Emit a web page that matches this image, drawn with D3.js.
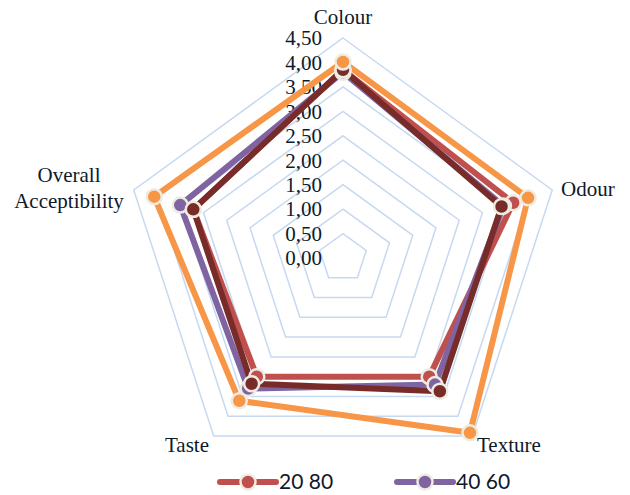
<!DOCTYPE html>
<html>
<head>
<meta charset="utf-8">
<script src="https://cdn.jsdelivr.net/npm/d3@7"></script>
<style>
  body { margin: 0; background: #fff; }
  text { fill: #0d1a2b; }
</style>
</head>
<body>
<div class="radar"></div>
<script>
var axes = ['Colour', 'Odour', 'Texture', 'Taste', 'Overall Acceptibility'];
var ticks = [0, 0.5, 1, 1.5, 2, 2.5, 3, 3.5, 4, 4.5];
var names = ['20 80', '40 60', '60 40', '80 20'];
var colors = ['#c0504d', '#8064a2', '#772c2a', '#f79646'];
var s2080 = [3.85, 3.66, 3.0, 3.0, 3.22];
var s4060 = [3.8, 3.45, 3.2, 3.3, 3.5];
var s6040 = [3.85, 3.41, 3.37, 3.18, 3.22];
var s8020 = [4.01, 3.98, 4.42, 3.61, 4.06];
var series = [s2080, s4060, s6040, s8020];

var cx = 343, cy = 258;
var r = d3.scaleLinear().domain([0, 4.5]).range([0, 220]);
var angle = d3.scaleLinear().domain([0, axes.length]).range([0, 2 * Math.PI]);

function pt(i, v) {
  var a = angle(i);
  return [cx + r(v) * Math.sin(a), cy - r(v) * Math.cos(a)];
}

var svg = d3.select('.radar')
  .append('svg')
  .attr('width', 630)
  .attr('height', 495);

// grid pentagons
svg.selectAll('.grid')
  .data(ticks.slice(1))
  .enter().append('polygon')
  .attr('points', function(t) {
    return axes.map(function(a, i) { return pt(i, t).join(','); }).join(' ');
  })
  .style('fill', 'none')
  .style('stroke', '#c6d9f1')
  .style('stroke-width', 1.5);

// tick labels
svg.selectAll('.tick')
  .data(ticks)
  .enter().append('text')
  .attr('x', cx - 21)
  .attr('y', function(t) { return cy - r(t); })
  .attr('dy', '0.35em')
  .attr('text-anchor', 'end')
  .style('font-family', 'Liberation Serif, Times New Roman, serif')
  .style('font-size', '21px')
  .text(function(t) { return d3.format('.2f')(t).replace('.', ','); });

// series lines
var line = d3.line().curve(d3.curveLinearClosed);
series.forEach(function(s, k) {
  svg.append('path')
    .attr('d', line(s.map(function(v, i) { return pt(i, v); })))
    .style('fill', 'none')
    .style('stroke', colors[k])
    .style('stroke-width', 6)
    .style('stroke-linejoin', 'round');
});
series.forEach(function(s, k) {
  svg.selectAll('.m' + k)
    .data(s)
    .enter().append('circle')
    .attr('cx', function(v, i) { return pt(i, v)[0]; })
    .attr('cy', function(v, i) { return pt(i, v)[1]; })
    .attr('r', 7.5)
    .style('fill', colors[k])
    .style('stroke', '#eeece1')
    .style('stroke-width', 2.5);
});

// axis labels
var font = 'Liberation Serif, Times New Roman, serif';
function label(txt, x, y, anchor) {
  return svg.append('text').text(txt)
    .attr('x', x).attr('y', y)
    .attr('text-anchor', anchor)
    .style('font-family', font)
    .style('font-size', '21px');
}
label(axes[0], cx, 24, 'middle');
label(axes[1], 561, 196, 'start');
label(axes[2], 477, 452, 'start');
label(axes[3], 209, 452, 'end');
label('Overall', 69, 182, 'middle');
label('Acceptibility', 69, 208, 'middle');

// legend (only first two visible)
var legend = svg.selectAll('.legend')
  .data(names.slice(0, 2))
  .enter().append('g')
  .attr('transform', function(d, i) { return 'translate(' + (220 + i * 177) + ',482)'; });
legend.append('line')
  .attr('x1', 0).attr('x2', 56)
  .style('stroke', function(d, i) { return colors[i]; })
  .style('stroke-width', 6)
  .style('stroke-linecap', 'round');
legend.append('circle')
  .attr('cx', 28).attr('r', 7.5)
  .style('fill', function(d, i) { return colors[i]; })
  .style('stroke', '#eeece1')
  .style('stroke-width', 2.5);
legend.append('text')
  .attr('x', 59)
  .attr('dy', '0.35em')
  .style('font-family', 'Lato, Open Sans, sans-serif')
  .style('font-size', '21px')
  .text(function(d) { return d; });
</script>
</body>
</html>
